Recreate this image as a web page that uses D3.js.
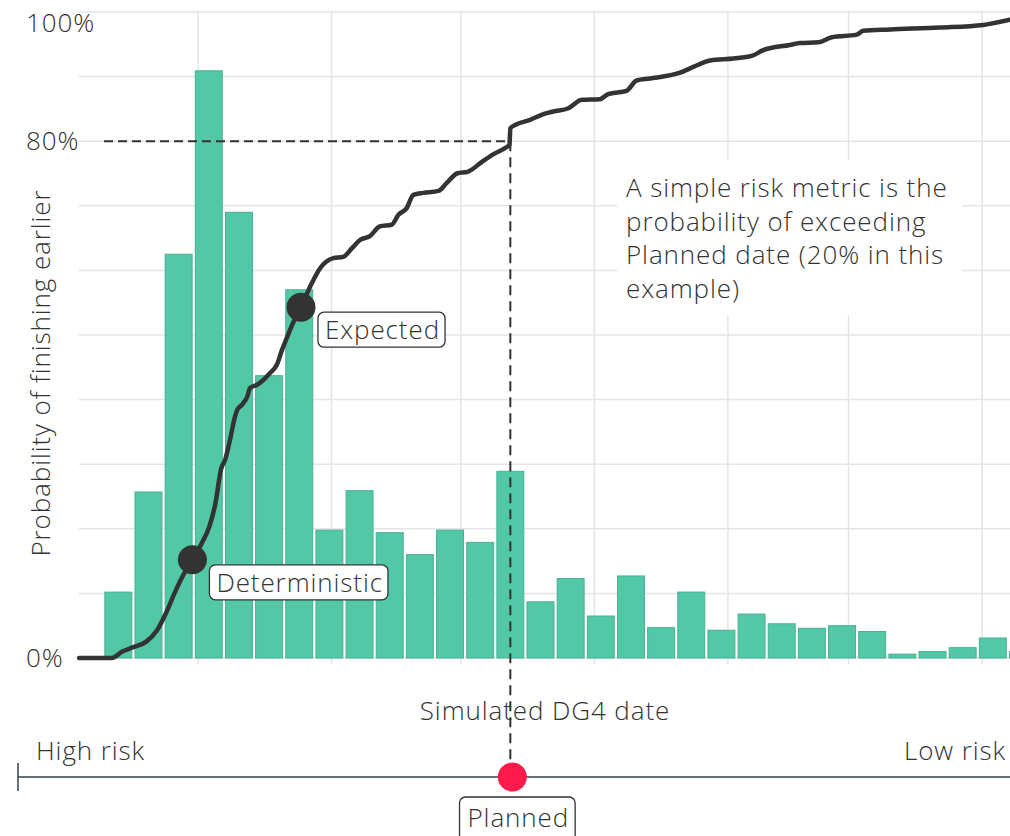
<!DOCTYPE html>
<html>
<head>
<meta charset="utf-8">
<script src="https://cdn.jsdelivr.net/npm/d3@7"></script>
<style>
  html, body { margin: 0; padding: 0; background: #fff; }
  svg { display: block; }
  text { font-family: "Open Sans", "Lato", sans-serif; font-weight: 300; fill: #333; letter-spacing: 0.9px; }
</style>
</head>
<body>
<svg id="chart" width="1010" height="836"></svg>
<script>
// ---------- DATA ----------
// weekly histogram bins (start dates), relative frequency (same scale as y)
const binStartFirst = "2022-09-09";
const binValues = [10.2, 25.7, 62.5, 90.9, 69.0, 43.7, 57.0, 19.8, 25.9, 19.4,
                   16.0, 19.8, 17.9, 28.9, 8.7, 12.3, 6.5, 12.7, 4.7, 10.2,
                   4.3, 6.8, 5.3, 4.6, 5.0, 4.1, 0.6, 1.0, 1.6, 3.1, 1.0];
// cumulative probability curve: days after 2022-10-01, probability (%)
const cdfOrigin = "2022-10-01";
const cdfDays = [-27.6, -20.0, -17.6, -15.3, -12.1, -9.5, -7.4, -5.6, -3.7, -1.3,
                 0.9, 2.6, 4.2, 4.9, 5.3, 6.3, 7.4, 8.6, 9.1, 10.2,
                 11.4, 12.1, 13.7, 15.1, 16.7, 18.3, 19.5, 20.7, 21.8, 23.9,
                 26.4, 28.3, 31.4, 33.7, 35.7, 37.6, 39.9, 42.2, 45.0, 46.5,
                 48.4, 50.0, 52.3, 55.8, 57.7, 60.1, 62.7, 65.9, 68.6, 71.7,
                 72.3, 72.5, 73.6, 77.1, 80.2, 82.5, 86.0, 89.1, 93.3, 95.2,
                 99.5, 101.8, 104.9, 111.9, 115.0, 118.9, 124.3, 128.5, 131.2, 137.4,
                 139.7, 144.0, 147.1, 152.9, 154.4, 160.6, 172.2, 182.3, 188.5];
const cdfProb = [0, 0, 1.0, 1.6, 2.5, 4.3, 7.0, 9.8, 12.5, 15.2,
                 17.8, 20.3, 24.5, 27.6, 29.1, 30.7, 33.7, 37.4, 38.4, 39.2,
                 40.4, 41.8, 42.3, 43.0, 44.1, 45.4, 47.7, 49.7, 51.5, 54.3,
                 58.0, 60.3, 61.9, 62.1, 63.4, 64.7, 65.3, 66.8, 67.1, 68.6,
                 69.6, 71.7, 72.0, 72.3, 73.5, 75.0, 75.3, 76.8, 78.0, 79.1,
                 79.4, 82.0, 82.5, 83.3, 84.2, 84.6, 85.1, 86.4, 86.5, 87.3,
                 87.8, 89.4, 89.7, 90.6, 91.5, 92.5, 92.8, 93.2, 94.1, 94.9,
                 95.2, 95.3, 96.1, 96.5, 97.1, 97.3, 97.6, 98.0, 98.8];
// marked points
const markerNames = ["Deterministic", "Expected"];
const markerDays = [-1.3, 23.9];
const markerProb = [15.2, 54.3];
const plannedDay = 72.5;
const plannedProb = 80;
// axis tick labels
const yTickValues = [0, 80, 100];
const yTickLabels = ["0%", "80%", "100%"];
const yGridValues = [0, 10, 20, 30, 40, 50, 60, 70, 80, 90, 100];
const xDomain = ["2022-09-03", "2023-04-08"];
const annotationLines = ["A simple risk metric is the", "probability of exceeding",
                         "Planned date (20% in this", "example)"];

// ---------- SETUP ----------
const svg = d3.select("#chart");
const W = 1010, H = 836;
const DAY = 864e5;
const origin = new Date(cdfOrigin + "T00:00:00Z").getTime();
const toDate = d => new Date(origin + d * DAY);
const parse = s => new Date(s + "T00:00:00Z");

const x = d3.scaleUtc().domain(xDomain.map(parse)).range([77.4, 1012.2]);
const y = d3.scaleLinear().domain([0, 100]).range([658, 12]);

const gridColor = "#e5e5e5";
const dark = "#333333";
const FS = 26;

// ---------- GRID ----------
const grid = svg.append("g");
const monthTicks = x.ticks(d3.utcMonth.every(1));
grid.selectAll("line.v").data(monthTicks).join("line")
  .attr("x1", d => x(d)).attr("x2", d => x(d))
  .attr("y1", y(100)).attr("y2", y(0) + 6)
  .attr("stroke", gridColor).attr("stroke-width", 1.5);
grid.selectAll("line.h").data(yGridValues).join("line")
  .attr("x1", 79).attr("x2", W)
  .attr("y1", d => y(d)).attr("y2", d => y(d))
  .attr("stroke", gridColor).attr("stroke-width", 1.5);

// ---------- BARS ----------
const binStart0 = parse(binStartFirst).getTime();
const bins = binValues.map((v, i) => ({
  start: new Date(binStart0 + i * 7 * DAY),
  end: new Date(binStart0 + (i + 1) * 7 * DAY),
  v
}));
svg.append("g").selectAll("rect").data(bins).join("rect")
  .attr("x", d => x(d.start) + 1.6)
  .attr("width", d => x(d.end) - x(d.start) - 3.2)
  .attr("y", d => y(d.v))
  .attr("height", d => y(0) - y(d.v))
  .attr("fill", "#52c8a7")
  .attr("stroke", "#47b194")
  .attr("stroke-width", 1);

// ---------- ANNOTATION BOX (covers grid) ----------
svg.append("rect").attr("x", 617).attr("y", 160).attr("width", 345).attr("height", 155)
  .attr("fill", "#fff");
svg.append("g").selectAll("text").data(annotationLines).join("text")
  .attr("x", 626).attr("y", (d, i) => 197 + i * 33.5)
  .attr("font-size", FS).text(d => d);

// ---------- DASHED GUIDES ----------
svg.append("line")
  .attr("x1", 104).attr("x2", x(toDate(plannedDay)))
  .attr("y1", y(plannedProb)).attr("y2", y(plannedProb))
  .attr("stroke", dark).attr("stroke-width", 2).attr("stroke-dasharray", "9,5");
svg.append("line")
  .attr("x1", x(toDate(plannedDay))).attr("x2", x(toDate(plannedDay)))
  .attr("y1", y(plannedProb)).attr("y2", 777)
  .attr("stroke", dark).attr("stroke-width", 2).attr("stroke-dasharray", "10,6");

// ---------- CDF CURVE ----------
const cdf = cdfDays.map((d, i) => ({ date: toDate(d), p: cdfProb[i] }));
svg.append("path").datum(cdf)
  .attr("d", d3.line().x(d => x(d.date)).y(d => y(d.p)).curve(d3.curveMonotoneX))
  .attr("fill", "none").attr("stroke", dark).attr("stroke-width", 4.5)
  .attr("stroke-linejoin", "round").attr("stroke-linecap", "round");

// ---------- MARKERS ----------
const markers = markerNames.map((n, i) => ({ n, date: toDate(markerDays[i]), p: markerProb[i] }));
const mg = svg.append("g").selectAll("g").data(markers).join("g");
mg.append("circle").attr("cx", d => x(d.date)).attr("cy", d => y(d.p)).attr("r", 14.5).attr("fill", dark);

function labelBox(g, x0, top, txt) {
  const t = g.append("text").attr("font-size", FS).attr("x", x0 + 7).attr("y", top + 27).text(txt);
  const bb = t.node().getBBox();
  g.insert("rect", "text")
    .attr("x", x0).attr("y", top)
    .attr("width", bb.width + 12).attr("height", 35)
    .attr("rx", 6).attr("fill", "#fff").attr("stroke", dark).attr("stroke-width", 1.3);
}
mg.each(function(d) {
  labelBox(d3.select(this), x(d.date) + 17, y(d.p) + 5, d.n);
});

// ---------- AXIS TICKS & LABELS ----------
svg.append("g").selectAll("text").data(yTickValues).join("text")
  .attr("x", 26)
  .attr("y", d => d === 100 ? y(d) + 20 : y(d) + 9)
  .attr("font-size", FS)
  .text((d, i) => yTickLabels[i]);

svg.append("text")
  .attr("transform", `translate(50, ${373}) rotate(-90)`)
  .attr("text-anchor", "middle").attr("font-size", FS)
  .text("Probability of finishing earlier");

svg.append("text").attr("x", 545).attr("y", 720).attr("text-anchor", "middle")
  .attr("font-size", FS).text("Simulated DG4 date");

// ---------- RISK SCALE ----------
svg.append("line").attr("x1", 18).attr("x2", W).attr("y1", 777).attr("y2", 777)
  .attr("stroke", "#34414b").attr("stroke-width", 1.5);
svg.append("line").attr("x1", 18).attr("x2", 18).attr("y1", 763).attr("y2", 791)
  .attr("stroke", "#34414b").attr("stroke-width", 1.5);
svg.append("text").attr("x", 36).attr("y", 760).attr("font-size", FS).text("High risk");
svg.append("text").attr("x", 1006).attr("y", 760).attr("text-anchor", "end").attr("font-size", FS).text("Low risk");
svg.append("circle").attr("cx", x(toDate(plannedDay)) + 2).attr("cy", 777).attr("r", 14.5).attr("fill", "#fe1a4b");

const pg = svg.append("g");
const pt = pg.append("text").attr("x", x(toDate(plannedDay)) + 8).attr("y", 827)
  .attr("text-anchor", "middle").attr("font-size", FS).text("Planned");
const pbb = pt.node().getBBox();
pg.insert("rect", "text").attr("x", pbb.x - 8).attr("y", 797)
  .attr("width", pbb.width + 14).attr("height", 45).attr("rx", 6)
  .attr("fill", "#fff").attr("stroke", dark).attr("stroke-width", 1.3);
</script>
</body>
</html>
